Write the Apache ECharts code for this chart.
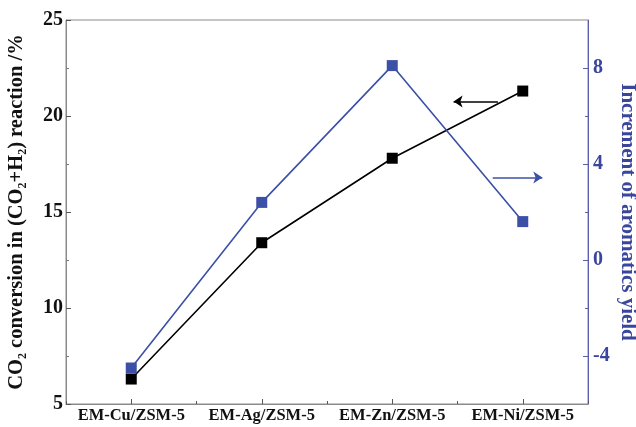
<!DOCTYPE html>
<html>
<head>
<meta charset="utf-8">
<script src="https://cdn.jsdelivr.net/npm/echarts@6/dist/echarts.min.js"></script>
<style>html,body{margin:0;padding:0;background:#fff;}#c{width:636px;height:427px;}</style>
</head>
<body>
<div id="c"></div>
<script>
var categories = ['EM-Cu/ZSM-5', 'EM-Ag/ZSM-5', 'EM-Zn/ZSM-5', 'EM-Ni/ZSM-5'];
var co2Conversion = [6.3, 13.4, 17.8, 21.3];
var aromaticsIncrement = [-4.5, 2.4, 8.1, 1.6];
var rightMajorTicks = [-4, 0, 4, 8];
var rightMinorTicks = [-2, 2, 6];
var conversionArrow = [[2.81, 20.75], [2.47, 20.75]];
var aromaticsArrow = [[2.77, 3.44], [3.15, 3.44]];

var BLUE = '#3b50a6';
var BLUE_TXT = '#3a469c';
var GRAY = '#8a8a8a';
var FONT = '"Liberation Serif", "Times New Roman", serif';

var chart = echarts.init(document.getElementById('c'), null, {renderer: 'canvas'});
var option = {
  animation: false,
  backgroundColor: '#fff',
  grid: {left: 66, right: 48, top: 20, bottom: 23, outerBoundsMode: 'none', containLabel: false, show: true, borderColor: GRAY, borderWidth: 1, backgroundColor: 'transparent'},
  xAxis: [
    {
      type: 'category', data: categories, position: 'bottom',
      axisLine: {onZero: false, lineStyle: {color: GRAY, width: 1}},
      axisTick: {show: true, inside: true, alignWithLabel: true, interval: 0, length: 5, lineStyle: {color: '#555'}},
      axisLabel: {interval: 0, margin: 3, color: '#111', fontFamily: FONT, fontWeight: 'bold', fontSize: 16.5},
      splitLine: {show: false}
    },
    {
      type: 'category', data: categories, position: 'bottom',
      axisLine: {show: false, onZero: false},
      axisTick: {show: true, inside: true, interval: 0, length: 3, lineStyle: {color: '#555'}},
      axisLabel: {show: false},
      splitLine: {show: false}
    },
    {
      type: 'value', show: false, min: -0.5, max: 3.5, position: 'bottom',
      axisLine: {onZero: false}, splitLine: {show: false}
    }
  ],
  yAxis: [
    {
      type: 'value', position: 'left', min: 5, max: 25, interval: 5,
      axisLine: {show: true, onZero: false, lineStyle: {color: GRAY}},
      axisTick: {show: true, inside: true, length: 5, lineStyle: {color: '#555'}},
      minorTick: {show: true, splitNumber: 2, length: 3, lineStyle: {color: '#777'}},
      axisLabel: {margin: 3, color: '#111', fontFamily: FONT, fontWeight: 'bold', fontSize: 20},
      splitLine: {show: false},
      name: '{m|CO}{s|2}{m| conversion in (CO}{s|2}{m|+H}{s|2}{m|) reaction /%}',
      nameLocation: 'middle', nameGap: 37, nameMoveOverlap: false,
      nameTextStyle: {
        color: '#111', fontFamily: FONT, fontWeight: 'bold',
        rich: {
          m: {fontSize: 20.5, fontFamily: FONT, fontWeight: 'bold', color: '#111', lineHeight: 24, verticalAlign: 'middle'},
          s: {fontSize: 12, fontFamily: FONT, fontWeight: 'bold', color: '#111', lineHeight: 24, verticalAlign: 'bottom', padding: [11, 0, 0, 0]}
        }
      }
    },
    {
      type: 'value', position: 'right', min: -6, max: 10,
      axisLine: {show: true, onZero: false, lineStyle: {color: '#5a5eaa'}},
      axisTick: {show: true, inside: true, length: 5, customValues: rightMajorTicks, lineStyle: {color: '#5a5eaa'}},
      axisLabel: {margin: 5, customValues: rightMajorTicks, color: BLUE_TXT, fontFamily: FONT, fontWeight: 'bold', fontSize: 20},
      splitLine: {show: false},
      name: 'Increment of aromatics yield',
      nameLocation: 'middle', nameGap: 29, nameRotate: -90, nameMoveOverlap: false,
      nameTextStyle: {color: BLUE_TXT, fontFamily: FONT, fontWeight: 'bold', fontSize: 21}
    },
    {
      type: 'value', position: 'right', min: -6, max: 10,
      axisLine: {show: false, onZero: false},
      axisTick: {show: true, inside: true, length: 3, customValues: rightMinorTicks, lineStyle: {color: '#5a5eaa'}},
      axisLabel: {show: false},
      splitLine: {show: false}
    }
  ],
  series: [
    {
      name: 'CO2 conversion', type: 'line', xAxisIndex: 0, yAxisIndex: 0,
      data: co2Conversion,
      symbol: 'rect', symbolSize: 11,
      lineStyle: {color: '#000', width: 1.6},
      itemStyle: {color: '#000'},
      z: 3
    },
    {
      name: 'Aromatics increment', type: 'line', xAxisIndex: 0, yAxisIndex: 1,
      data: aromaticsIncrement,
      symbol: 'rect', symbolSize: 11,
      lineStyle: {color: BLUE, width: 1.6},
      itemStyle: {color: BLUE},
      z: 4
    },
    {
      type: 'lines', coordinateSystem: 'cartesian2d', xAxisIndex: 2, yAxisIndex: 0,
      symbol: ['none', 'arrow'], symbolSize: 9,
      lineStyle: {color: '#000', width: 1.6, opacity: 1},
      data: [{coords: conversionArrow}]
    },
    {
      type: 'lines', coordinateSystem: 'cartesian2d', xAxisIndex: 2, yAxisIndex: 1,
      symbol: ['none', 'arrow'], symbolSize: 9,
      lineStyle: {color: BLUE, width: 1.6, opacity: 1},
      data: [{coords: aromaticsArrow}]
    }
  ]
};
chart.setOption(option);
</script>
</body>
</html>
